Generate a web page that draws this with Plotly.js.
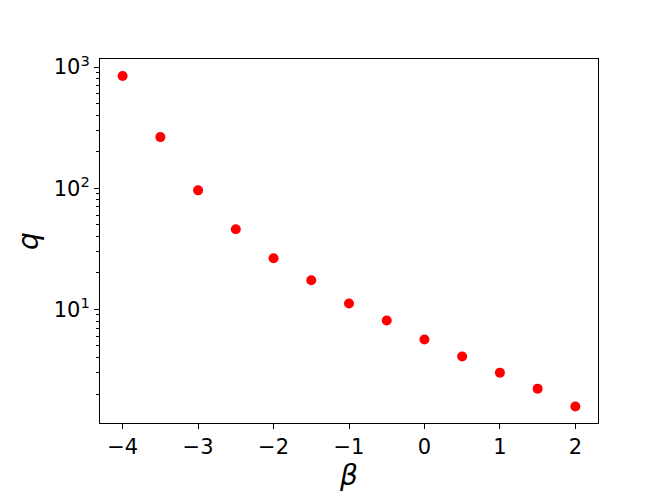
<!DOCTYPE html>
<html>
<head>
<meta charset="utf-8">
<script src="https://cdn.plot.ly/plotly-3.0.1.min.js"></script>
<style>html,body{margin:0;padding:0;background:#fff;}#chart{width:664px;height:498px;}</style>
</head>
<body>
<div id="chart"></div>
<script>
const beta = [-4, -3.5, -3, -2.5, -2, -1.5, -1, -0.5, 0, 0.5, 1, 1.5, 2];
const q = [843, 264, 96, 45.8, 26.4, 17.4, 11.2, 8.1, 5.65, 4.09, 3.01, 2.22, 1.58];
const yTickVals = [10, 100, 1000];
const yTickText = ['10<sup>1</sup>', '10<sup>2</sup>', '10<sup>3</sup>'];
const yMinorVals = [2,3,4,5,6,7,8,9,20,30,40,50,60,70,80,90,200,300,400,500,600,700,800,900];
const xTickVals = [-4, -3, -2, -1, 0, 1, 2];

Plotly.newPlot('chart', [{
  x: beta, y: q, type: 'scatter', mode: 'markers',
  marker: {color: '#ff0000', size: 10}
}], {
  width: 664, height: 498,
  margin: {l: 100, r: 66, t: 59, b: 75},
  paper_bgcolor: '#fff', plot_bgcolor: '#fff',
  showlegend: false,
  font: {family: 'DejaVu Sans', color: '#000'},
  xaxis: {
    range: [-4.3, 2.3], tickvals: xTickVals, automargin: false,
    ticks: 'outside', ticklen: 5, tickwidth: 1, tickcolor: '#000',
    showline: true, linecolor: '#000', linewidth: 1, mirror: true,
    showgrid: false, zeroline: false,
    tickfont: {family: 'DejaVu Sans', size: 21, color: '#000'},
    title: {text: '<i>β</i>', font: {family: 'DejaVu Sans', size: 28, color: '#000'}, standoff: 6}
  },
  yaxis: {
    type: 'log', range: [0.063, 3.066], automargin: false,
    tickvals: yTickVals, ticktext: yTickText,
    ticks: 'outside', ticklen: 5, tickwidth: 1, tickcolor: '#000',
    minor: {tickvals: yMinorVals, ticks: 'outside', ticklen: 3, tickwidth: 1, tickcolor: '#000', showgrid: false},
    showline: true, linecolor: '#000', linewidth: 1, mirror: true,
    showgrid: false, zeroline: false,
    tickfont: {family: 'DejaVu Sans', size: 21, color: '#000'},
    title: {text: '<i>q</i>', font: {family: 'DejaVu Sans', size: 28, color: '#000'}, standoff: 6}
  }
}, {displayModeBar: false, staticPlot: true});
</script>
</body>
</html>
